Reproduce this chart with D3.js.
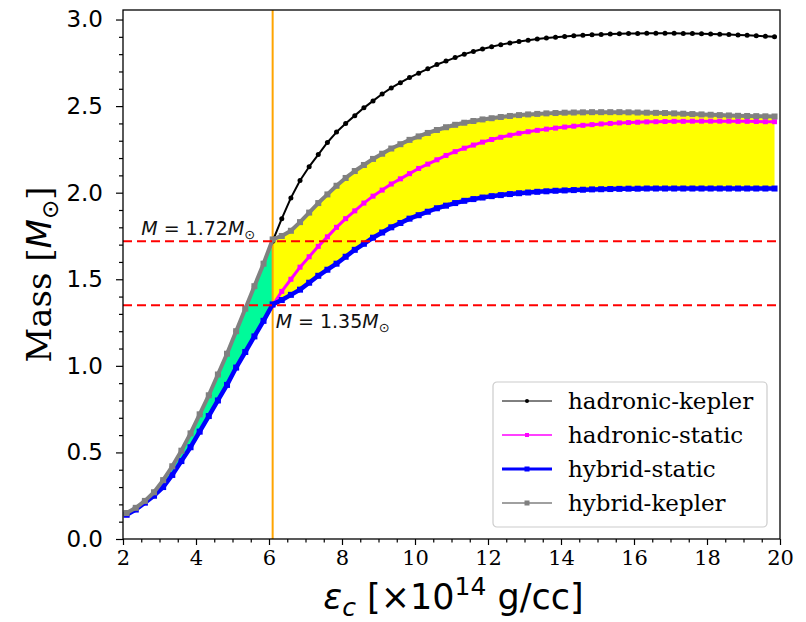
<!DOCTYPE html>
<html>
<head>
<meta charset="utf-8">
<script src="https://cdn.jsdelivr.net/npm/d3@7/dist/d3.min.js"></script>
<style>
body { margin: 0; background: #fff; }
</style>
</head>
<body>
<div class="chart"></div>
<script>
"use strict";

// central energy density grid (x 10^14 g/cc)
const eps = [
  2.1, 2.35, 2.6, 2.85, 3.1, 3.35, 3.6, 3.85, 4.1, 4.35, 4.6, 4.85, 5.1, 5.35, 5.6, 5.85,
  6.1, 6.35, 6.6, 6.85, 7.1, 7.35, 7.6, 7.85, 8.1, 8.35, 8.6, 8.85, 9.1, 9.35, 9.6, 9.85,
  10.1, 10.35, 10.6, 10.85, 11.1, 11.35, 11.6, 11.85, 12.1, 12.35, 12.6, 12.85, 13.1, 13.35, 13.6, 13.85,
  14.1, 14.35, 14.6, 14.85, 15.1, 15.35, 15.6, 15.85, 16.1, 16.35, 16.6, 16.85, 17.1, 17.35, 17.6, 17.85,
  18.1, 18.35, 18.6, 18.85, 19.1, 19.35, 19.6, 19.85
];

const hadronicKepler = [
  0.15, 0.18, 0.22, 0.27, 0.34, 0.42, 0.51, 0.61, 0.72, 0.83, 0.95, 1.07, 1.20, 1.33, 1.46, 1.59,
  1.72, 1.85, 1.97, 2.07, 2.15, 2.22, 2.29, 2.35, 2.40, 2.445, 2.49, 2.53, 2.57, 2.605, 2.635, 2.665,
  2.69, 2.715, 2.74, 2.76, 2.78, 2.80, 2.815, 2.83, 2.843, 2.855, 2.865, 2.873, 2.88, 2.887, 2.893, 2.898,
  2.902, 2.906, 2.909, 2.912, 2.914, 2.916, 2.918, 2.919, 2.920, 2.921, 2.921, 2.921, 2.921, 2.920, 2.919, 2.918,
  2.917, 2.915, 2.913, 2.911, 2.909, 2.906, 2.903, 2.900
];

const hadronicStatic = [
  0.14, 0.17, 0.21, 0.25, 0.30, 0.37, 0.45, 0.53, 0.62, 0.71, 0.80, 0.89, 0.99, 1.08, 1.17, 1.26,
  1.35, 1.43, 1.50, 1.57, 1.63, 1.69, 1.745, 1.80, 1.85, 1.895, 1.94, 1.98, 2.015, 2.05, 2.08, 2.11,
  2.14, 2.165, 2.19, 2.215, 2.237, 2.257, 2.275, 2.292, 2.307, 2.32, 2.332, 2.343, 2.352, 2.36, 2.367, 2.373,
  2.379, 2.384, 2.389, 2.393, 2.397, 2.40, 2.403, 2.405, 2.407, 2.409, 2.41, 2.411, 2.412, 2.412, 2.413, 2.413,
  2.413, 2.413, 2.413, 2.412, 2.412, 2.411, 2.41, 2.41
];

// hybrid branches, from the transition point (eps = 6.1) on
const hybridStatic = [
  1.355, 1.38, 1.41, 1.44, 1.48, 1.52, 1.555, 1.59, 1.63, 1.67, 1.705, 1.74, 1.77, 1.80, 1.825, 1.85,
  1.87, 1.89, 1.91, 1.925, 1.94, 1.953, 1.963, 1.972, 1.98, 1.986, 1.992, 1.997, 2.001, 2.005, 2.008, 2.011,
  2.013, 2.015, 2.017, 2.019, 2.02, 2.021, 2.022, 2.023, 2.023, 2.024, 2.024, 2.024, 2.024, 2.024, 2.024, 2.024,
  2.024, 2.024, 2.024, 2.024, 2.024, 2.024, 2.024, 2.024
];

const hybridKepler = [
  1.73, 1.75, 1.78, 1.83, 1.885, 1.94, 1.99, 2.04, 2.085, 2.125, 2.16, 2.195, 2.225, 2.255, 2.28, 2.305,
  2.325, 2.345, 2.362, 2.378, 2.392, 2.404, 2.414, 2.423, 2.43, 2.437, 2.443, 2.448, 2.452, 2.455, 2.458, 2.46,
  2.462, 2.463, 2.464, 2.465, 2.465, 2.465, 2.465, 2.464, 2.463, 2.462, 2.461, 2.46, 2.458, 2.456, 2.454, 2.452,
  2.45, 2.448, 2.446, 2.444, 2.443, 2.442, 2.441, 2.44
];

const transitionEps = 6.1;
const massLines = [1.72, 1.35];
const massLabels = ["1.72", "1.35"];
const xTicks = [2, 4, 6, 8, 10, 12, 14, 16, 18, 20];
const xMinor = [2.5, 3, 3.5, 4.5, 5, 5.5, 6.5, 7, 7.5, 8.5, 9, 9.5, 10.5, 11, 11.5, 12.5, 13, 13.5,
  14.5, 15, 15.5, 16.5, 17, 17.5, 18.5, 19, 19.5];
const yTicks = [0, 0.5, 1.0, 1.5, 2.0, 2.5, 3.0];
const yMinor = [0.1, 0.2, 0.3, 0.4, 0.6, 0.7, 0.8, 0.9, 1.1, 1.2, 1.3, 1.4, 1.6, 1.7, 1.8, 1.9,
  2.1, 2.2, 2.3, 2.4, 2.6, 2.7, 2.8, 2.9];

// Margin convention
const margin = {top: 10, right: 26, bottom: 83, left: 123};
const width = 806 - margin.left - margin.right;
const height = 622 - margin.top - margin.bottom;

const svg = d3.select('.chart')
  .append('svg')
  .attr('width', 806)
  .attr('height', 622)
  .append('g')
  .attr('transform', `translate(${margin.left}, ${margin.top})`);

const x = d3.scaleLinear().domain([2, 20]).range([0, width]);
const y = d3.scaleLinear().domain([0, 3.055]).range([height, 0]);

svg.append('clipPath').attr('id', 'plotclip')
  .append('rect').attr('width', width).attr('height', height);

const plot = svg.append('g').attr('clip-path', 'url(#plotclip)');

// build the series as point lists
const iT = eps.indexOf(transitionEps);
const toPts = arr => arr.map((m, i) => ({e: eps[i], m: m}));
const hadK = toPts(hadronicKepler);
const hadS = toPts(hadronicStatic);
const hybS = eps.map((e, i) => ({e: e, m: i < iT ? hadronicStatic[i] : hybridStatic[i - iT]}));
const hybK = eps.map((e, i) => ({e: e, m: i < iT ? hadronicKepler[i] : hybridKepler[i - iT]}));

// fills
const greenBand = eps.slice(0, iT + 1).map((e, i) => ({e: e, lo: hadronicStatic[i], hi: hadronicKepler[i]}));
const yellowBand = eps.slice(iT).map((e, i) => ({e: e, lo: hybridStatic[i], hi: hybridKepler[i]}));
const band = d3.area().x(d => x(d.e)).y0(d => y(d.lo)).y1(d => y(d.hi));

plot.append('path').datum(greenBand).attr('d', band).attr('fill', '#00fa9a');
plot.append('path').datum(yellowBand).attr('d', band).attr('fill', '#ffff00');

// transition line
plot.append('line')
  .attr('x1', x(transitionEps)).attr('x2', x(transitionEps))
  .attr('y1', 0).attr('y2', height)
  .attr('stroke', 'orange').attr('stroke-width', 2);

const line = d3.line().x(d => x(d.e)).y(d => y(d.m));

// lw = legend line, plw = line in the plot (dense markers there look like a band)
const series = [
  {name: 'hadronic-kepler', data: hadK, color: 'black', lw: 1, plw: 2, marker: 'circle', ms: 5},
  {name: 'hadronic-static', data: hadS, color: 'magenta', lw: 1.5, plw: 3, marker: 'square', ms: 5},
  {name: 'hybrid-static', data: hybS, color: 'blue', lw: 3, plw: 4.5, marker: 'square', ms: 6},
  {name: 'hybrid-kepler', data: hybK, color: 'grey', lw: 1.5, plw: 4, marker: 'square', ms: 6}
];

function drawMarkers(g, pts, s, size) {
  if (s.marker === 'circle') {
    g.selectAll('circle').data(pts).enter().append('circle')
      .attr('cx', d => d.x).attr('cy', d => d.y)
      .attr('r', size / 2).attr('fill', s.color);
  } else {
    g.selectAll('rect').data(pts).enter().append('rect')
      .attr('x', d => d.x - size / 2).attr('y', d => d.y - size / 2)
      .attr('width', size).attr('height', size).attr('fill', s.color);
  }
}

series.forEach(s => {
  const g = plot.append('g');
  g.append('path').datum(s.data).attr('d', line)
    .attr('fill', 'none').attr('stroke', s.color).attr('stroke-width', s.plw)
    .attr('stroke-linejoin', 'round');
  drawMarkers(g, s.data.map(d => ({x: x(d.e), y: y(d.m)})), s, s.ms);
});

// reference masses
plot.selectAll('.mline').data(massLines).enter().append('line')
  .attr('class', 'mline')
  .attr('x1', 0).attr('x2', width)
  .attr('y1', d => y(d)).attr('y2', d => y(d))
  .attr('stroke', 'red').attr('stroke-width', 2).attr('stroke-dasharray', '9,5');

// annotations
function massText(tx, ty, val) {
  const t = svg.append('text').attr('x', tx).attr('y', ty)
    .attr('font-family', 'DejaVu Sans').attr('font-size', 19).attr('fill', '#111');
  t.append('tspan').attr('font-style', 'italic').text('M');
  t.append('tspan').attr('dx', 6).text('=');
  t.append('tspan').attr('dx', 6).text(val);
  t.append('tspan').attr('font-style', 'italic').text('M');
  t.append('tspan').attr('font-size', 13).attr('dy', 4).text('\u2299');
}
massText(x(2.5), y(massLines[0]) - 6, massLabels[0]);
massText(x(transitionEps) + 3, y(massLines[1]) + 23, massLabels[1]);

// axes
const xAxis = svg.append('g').attr('transform', `translate(0, ${height})`)
  .call(d3.axisBottom(x).tickValues(xTicks).tickSize(6).tickPadding(5).tickFormat(d3.format('d')));
xAxis.selectAll('text').attr('font-family', 'DejaVu Serif').attr('font-size', 21).attr('fill', '#000');
svg.append('g').attr('transform', `translate(0, ${height})`)
  .call(d3.axisBottom(x).tickValues(xMinor).tickSize(3.5).tickFormat(''));

const yAxis = svg.append('g')
  .call(d3.axisLeft(y).tickValues(yTicks).tickSize(7).tickPadding(13).tickFormat(d3.format('.1f')));
yAxis.selectAll('text').attr('font-family', 'DejaVu Sans').attr('font-size', 23).attr('fill', '#000');
svg.append('g')
  .call(d3.axisLeft(y).tickValues(yMinor).tickSize(4).tickFormat(''));

svg.selectAll('.domain').remove();
svg.selectAll('.tick line').attr('stroke', '#000').attr('stroke-width', 1.2);
svg.append('rect').attr('width', width).attr('height', height)
  .attr('fill', 'none').attr('stroke', '#000').attr('stroke-width', 1.3);

// axis labels
const xl = svg.append('text')
  .attr('x', width / 2 + 2).attr('y', height + 70)
  .attr('text-anchor', 'middle')
  .attr('font-family', 'DejaVu Sans').attr('font-size', 35);
xl.append('tspan').attr('font-style', 'italic').text('\u03b5');
xl.append('tspan').attr('font-style', 'italic').attr('font-size', 25).attr('dy', 7).text('c');
xl.append('tspan').attr('dy', -7).text(' [\u00d710');
xl.append('tspan').attr('font-size', 25).attr('dy', -14).text('14');
xl.append('tspan').attr('dy', 14).text(' g/cc]');

const yl = svg.append('text')
  .attr('transform', `translate(${-72}, ${height / 2}) rotate(-90)`)
  .attr('text-anchor', 'middle')
  .attr('font-family', 'DejaVu Serif').attr('font-size', 34);
yl.append('tspan').text('Mass [');
yl.append('tspan').attr('font-family', 'DejaVu Sans').attr('font-style', 'italic').text('M');
yl.append('tspan').attr('font-family', 'DejaVu Sans').attr('font-size', 23).attr('dy', 7).text('\u2299');
yl.append('tspan').attr('dy', -7).text(']');

// legend, lower right corner of the axes
const legend = svg.append('g').attr('transform', `translate(${width - 287}, ${height - 157})`);
legend.append('rect')
  .attr('width', 274).attr('height', 145).attr('rx', 4)
  .attr('fill', '#fff').attr('fill-opacity', 0.8)
  .attr('stroke', '#ccc').attr('stroke-width', 1.2);
series.forEach((s, i) => {
  const row = legend.append('g').attr('transform', `translate(0, ${19 + i * 34})`);
  row.append('line').attr('x1', 9).attr('x2', 59)
    .attr('stroke', s.color).attr('stroke-width', s.lw);
  drawMarkers(row, [{x: 34, y: 0}], s, s.ms - 1);
  row.append('text').attr('x', 75).attr('dy', '0.35em')
    .attr('font-family', 'DejaVu Serif').attr('font-size', 23).text(s.name);
});
</script>
</body>
</html>
